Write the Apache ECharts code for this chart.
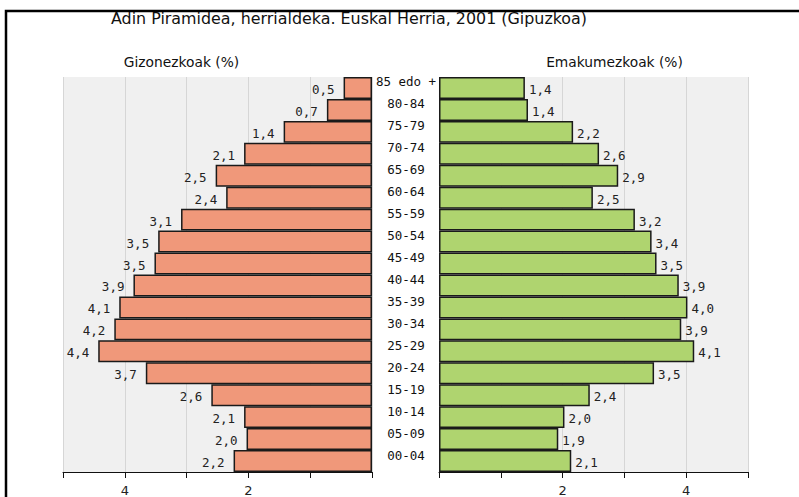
<!DOCTYPE html>
<html>
<head>
<meta charset="utf-8">
<script src="https://cdn.jsdelivr.net/npm/echarts@6/dist/echarts.min.js"></script>
<style>
html,body{margin:0;padding:0;background:#fff;}
#chart{width:799px;height:497px;}
</style>
</head>
<body>
<div id="chart"></div>
<script>
// Age groups, bottom to top
var ageGroups = ['00-04','05-09','10-14','15-19','20-24','25-29','30-34','35-39','40-44','45-49','50-54','55-59','60-64','65-69','70-74','75-79','80-84','85 edo +'];
// Men (%) — Gizonezkoak
var men = [2.24,2.03,2.07,2.60,3.66,4.43,4.17,4.09,3.86,3.52,3.46,3.09,2.36,2.53,2.07,1.43,0.73,0.46];
// Women (%) — Emakumezkoak
var women = [2.14,1.93,2.03,2.44,3.48,4.13,3.92,4.02,3.88,3.52,3.44,3.17,2.49,2.90,2.59,2.17,1.44,1.39];
// Axis tick labels shown
var tickLabels = ['2','4'];

var titleText = 'Adin Piramidea, herrialdeka. Euskal Herria, 2001 (Gipuzkoa)';
var menTitle = 'Gizonezkoak (%)';
var womenTitle = 'Emakumezkoak (%)';

function fmt(v){ return v.toFixed(1).replace('.', ','); }

var chart = echarts.init(document.getElementById('chart'), null, {renderer:'svg'});

var xAxisCommon = {
  type:'value', min:0, max:5, interval:1,
  axisLine:{show:true, onZero:false, lineStyle:{color:'#111', width:1}},
  axisTick:{show:true, length:6, lineStyle:{color:'#111', width:1}},
  axisLabel:{
    margin:12, color:'#222', fontFamily:'DejaVu Sans', fontSize:13,
    formatter:function(v){ var s=String(v); return tickLabels.indexOf(s)>=0 ? s : ''; }
  },
  splitLine:{show:true, lineStyle:{color:'#d6d6d6', width:1}}
};

var option = {
  animation:false,
  backgroundColor:'#ffffff',
  grid:[
    {left:63, right:427, top:77, bottom:21, show:true, backgroundColor:'#f0f0f0', borderWidth:0},
    {left:439, right:51, top:77, bottom:21, show:true, backgroundColor:'#f0f0f0', borderWidth:0}
  ],
  xAxis:[
    Object.assign({gridIndex:0, inverse:true}, xAxisCommon),
    Object.assign({gridIndex:1}, xAxisCommon)
  ],
  yAxis:[
    {gridIndex:0, type:'category', data:ageGroups, axisLine:{show:false}, axisTick:{show:false}, axisLabel:{show:false}, splitLine:{show:false}},
    {gridIndex:1, type:'category', data:ageGroups, axisLine:{show:false}, axisTick:{show:false}, splitLine:{show:false},
     axisLabel:{show:true, align:'center', verticalAlign:'bottom', lineHeight:12, margin:33, color:'#111', fontFamily:'DejaVu Sans Mono', fontSize:12.5}}
  ],
  series:[
    {type:'bar', xAxisIndex:0, yAxisIndex:0, data:men, barCategoryGap:'0%',
     itemStyle:{color:'#f0987a', borderColor:'#1a1a1a', borderWidth:1.5},
     label:{show:true, position:'left', distance:9, offset:[0,1.5], color:'#222', fontFamily:'DejaVu Sans Mono', fontSize:12.5,
       formatter:function(p){ return fmt(p.value); }}},
    {type:'bar', xAxisIndex:1, yAxisIndex:1, data:women, barCategoryGap:'0%',
     itemStyle:{color:'#afd46f', borderColor:'#1a1a1a', borderWidth:1.5},
     label:{show:true, position:'right', distance:4, offset:[0,1.5], color:'#222', fontFamily:'DejaVu Sans Mono', fontSize:12.5,
       formatter:function(p){ return fmt(p.value); }}}
  ],
  graphic:[
    {type:'rect', shape:{x:6, y:11, width:820, height:520}, style:{fill:'none', stroke:'#000', lineWidth:2.5}, z:100},
    {type:'text', x:349, y:18.5, style:{text:titleText, fill:'#111', font:'15.9px "DejaVu Sans"', textAlign:'center', textVerticalAlign:'middle'}},
    {type:'text', x:181.5, y:62, style:{text:menTitle, fill:'#111', font:'13.8px "DejaVu Sans"', textAlign:'center', textVerticalAlign:'middle'}},
    {type:'text', x:614.5, y:62, style:{text:womenTitle, fill:'#111', font:'13.8px "DejaVu Sans"', textAlign:'center', textVerticalAlign:'middle'}}
  ]
};
chart.setOption(option);
</script>
</body>
</html>
